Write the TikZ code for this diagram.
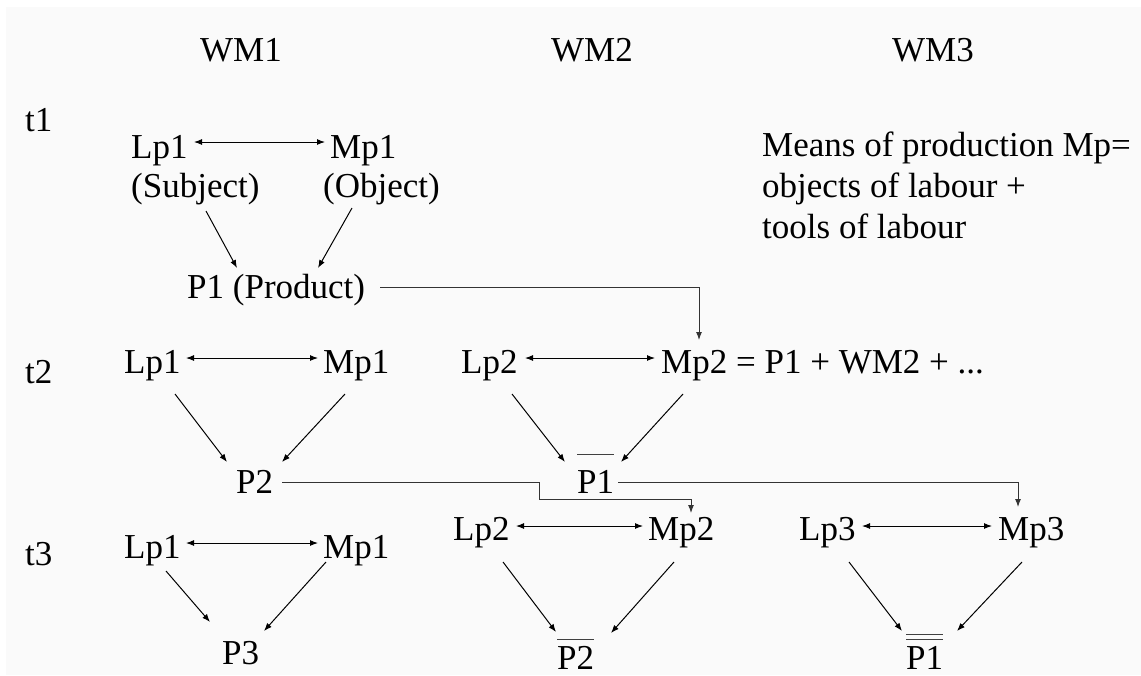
\documentclass[tikz,border=0pt]{standalone}
\usepackage{fontspec}
\setmainfont{Liberation Serif}
\usetikzlibrary{calc,arrows.meta}
\newcommand\myoverbar[2]{\setbox0\hbox{#2}\rlap{\raisebox{#1}{\color{black!75}\rule{\wd0}{1.3pt}}}\box0}
\newcommand\mydoublebar[3]{\setbox0\hbox{#3}\rlap{\raisebox{#1}{\color{black!75}\rule{\wd0}{1.3pt}}}\rlap{\raisebox{#2}{\color{black!75}\rule{\wd0}{1.3pt}}}\box0}
\begin{document}
\begin{tikzpicture}[x=1pt,y=-1pt,
  lbl/.style={inner sep=0pt, anchor=base west, font=\fontsize{35}{41}\selectfont},
  arr/.style={line width=1pt, -{Latex[length=8pt,width=6pt]}},
  biarr/.style={line width=1pt, {Latex[length=8pt,width=6pt]}-{Latex[length=8pt,width=6pt]}},
  link/.style={line width=1pt, black!80, -{Latex[length=8pt,width=6pt]}}]
\useasboundingbox (0,0) rectangle (1141,675);
\fill[white] (0,0) rectangle (1141,675);
\fill[black!2] (6,7) rectangle (1141,675);
% headers
\node[lbl] (wm1) at (200,61) {WM1};
\node[lbl] (wm2) at (551,61) {WM2};
\node[lbl] (wm3) at (892,61) {WM3};
\node[lbl] (t1) at (25,131) {t1};
\node[lbl] (t2) at (25,383) {t2};
\node[lbl] (t3) at (25,565) {t3};
% t1
\node[lbl] (lpA) at (131,158) {Lp1};
\node[lbl] (subj) at (131,197) {(Subject)};
\node[lbl] (mpA) at (330,158) {Mp1};
\node[lbl] (obj) at (323,197) {(Object)};
\node[lbl] (pA) at (187,298) {P1 (Product)};
\node[lbl] (note) at (762,156) {\begin{tabular}[t]{@{}l@{}}Means of production Mp=\\objects of labour +\\tools of labour\end{tabular}};
% t2
\node[lbl] (lpB) at (124,373) {Lp1};
\node[lbl] (mpB) at (323,373) {Mp1};
\node[lbl] (pB) at (236,493) {P2};
\node[lbl] (lpC) at (461,373) {Lp2};
\node[lbl] (mpC) at (661,373) {Mp2 = P1 + WM2 + ...};
\node[lbl] (pC) at (577,493) {\myoverbar{38pt}{P1}};
% t3
\node[lbl] (lpD) at (124,558) {Lp1};
\node[lbl] (mpD) at (323,558) {Mp1};
\node[lbl] (pD) at (222,664) {P3};
\node[lbl] (lpE) at (453,540) {Lp2};
\node[lbl] (mpE) at (648,540) {Mp2};
\node[lbl] (pE) at (557,669) {\myoverbar{29pt}{P2}};
\node[lbl] (lpF) at (799,540) {Lp3};
\node[lbl] (mpF) at (998,540) {Mp3};
\node[lbl] (pF) at (906,669) {\mydoublebar{34pt}{29pt}{P1}};
% connectors t1
\draw[biarr] ($(lpA.base west)+(63,-16)$) -- ($(mpA.base west)+(-5,-16)$);
\draw[arr] ($(subj.base west)+(75,14)$) -- ($(pA.base west)+(50,-30)$);
\draw[arr] ($(obj.base west)+(29,11)$) -- ($(pA.base west)+(131,-30)$);
\draw[link] ($(pA.base west)+(193,-11)$) -| ($(mpC.base west)+(38,-33)$);
% t2
\draw[biarr] ($(lpB.base west)+(62,-15)$) -- ($(mpB.base west)+(-5,-15)$);
\draw[arr] ($(lpB.base west)+(51,21)$) -- ($(pB.base west)+(-9,-31)$);
\draw[arr] ($(mpB.base west)+(22,21)$) -- ($(pB.base west)+(46,-31)$);
\draw[biarr] ($(lpC.base west)+(64,-15)$) -- ($(mpC.base west)+(-6,-15)$);
\draw[arr] ($(lpC.base west)+(51,21)$) -- ($(pC.base west)+(-12,-31)$);
\draw[arr] ($(mpC.base west)+(22,21)$) -- ($(pC.base west)+(44,-31)$);
\draw[link] ($(pB.base west)+(46,-11)$) -- ($(pB.base west)+(303,-11)$) -- ($(mpE.base west)+(-109,-41)$) -| ($(mpE.base west)+(43,-27)$);
\draw[link] ($(pC.base west)+(41,-11)$) -| ($(mpF.base west)+(20,-33)$);
% t3
\draw[biarr] ($(lpD.base west)+(62,-15)$) -- ($(mpD.base west)+(-5,-15)$);
\draw[arr] ($(lpD.base west)+(42,13)$) -- ($(pD.base west)+(-12,-42)$);
\draw[arr] ($(mpD.base west)+(3,4)$) -- ($(pD.base west)+(42,-33)$);
\draw[biarr] ($(lpE.base west)+(63,-14)$) -- ($(mpE.base west)+(-5,-14)$);
\draw[arr] ($(lpE.base west)+(50,22)$) -- ($(pE.base west)+(-1,-37)$);
\draw[arr] ($(mpE.base west)+(26,22)$) -- ($(pE.base west)+(54,-36)$);
\draw[biarr] ($(lpF.base west)+(63,-14)$) -- ($(mpF.base west)+(-6,-14)$);
\draw[arr] ($(lpF.base west)+(50,22)$) -- ($(pF.base west)+(-4,-38)$);
\draw[arr] ($(mpF.base west)+(24,22)$) -- ($(pF.base west)+(51,-38)$);
\end{tikzpicture}
\end{document}
